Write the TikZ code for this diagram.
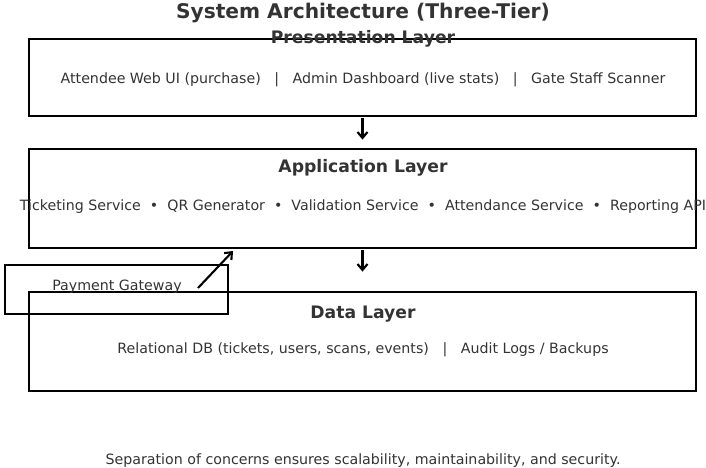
\documentclass[tikz,border=0pt]{standalone}
\usepackage{fontspec}
\setmainfont{DejaVu Sans}
\usetikzlibrary{arrows.meta,calc}
\definecolor{txt}{HTML}{333333}
\tikzset{
  layerbox/.style={draw=black, line width=2.8pt, rectangle, inner sep=0pt},
  lbl/.style={text=txt, font=\fontsize{14.2}{16}\selectfont, inner sep=0pt, anchor=center},
  ttl/.style={text=txt, font=\fontsize{17.2}{19}\selectfont\bfseries, inner sep=0pt, anchor=center},
  arr/.style={draw=black, line width=2.1pt, -{Straight Barb[length=6pt,width=10pt,line width=2.1pt]}}
}
\begin{document}
\begin{tikzpicture}[x=1pt,y=-1pt]
\useasboundingbox (0,0) rectangle (706,467);
% title
\node[text=txt, font=\fontsize{20.2}{23}\selectfont\bfseries, inner sep=0pt] (title) at (363,13) {System Architecture (Three-Tier)};
% boxes
\node[layerbox, minimum width=667pt, minimum height=77pt] (pres) at (362.5,77.5) {};
\node[layerbox, minimum width=667pt, minimum height=99pt] (app) at (362.5,198.5) {};
\node[layerbox, minimum width=223pt, minimum height=49pt] (pay) at (116.5,289.5) {};
\node[layerbox, minimum width=667pt, minimum height=99pt] (data) at (362.5,341.5) {};
% texts
\node[ttl] (prest) at (363,39) {Presentation Layer};
\node[lbl] (presc) at (363,80) {Attendee Web UI (purchase)\ \ \ |\ \ \ Admin Dashboard (live stats)\ \ \ |\ \ \ Gate Staff Scanner};
\node[ttl] (appt) at (363,168) {Application Layer};
\node[lbl] (appc) at (363,207) {Ticketing Service\ \ •\ \ QR Generator\ \ •\ \ Validation Service\ \ •\ \ Attendance Service\ \ •\ \ Reporting API};
\node[lbl] (payt) at (117,287) {Payment Gateway};
\node[ttl] (datat) at (363,314) {Data Layer};
\node[lbl] (datac) at (363,350) {Relational DB (tickets, users, scans, events)\ \ \ |\ \ \ Audit Logs / Backups};
\node[lbl] (foot) at (363,461) {Separation of concerns ensures scalability, maintainability, and security.};
% connectors
\draw[arr, shorten <=1pt, shorten >=8pt] (pres.south) -- (app.north);
\draw[arr, shorten <=1pt, shorten >=19pt] (app.south) -- (data.north);
\coordinate (pgout) at (198,288);
\coordinate (appin) at (233,251);
\draw[arr] (pgout) -- (appin);
\end{tikzpicture}
\end{document}
